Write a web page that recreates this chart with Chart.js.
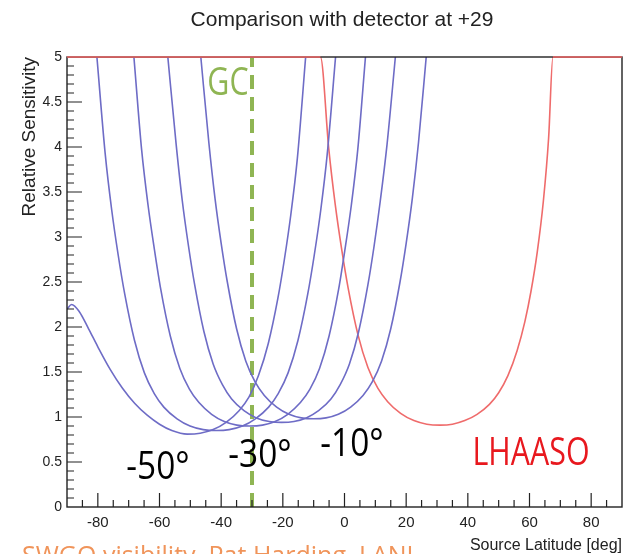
<!DOCTYPE html>
<html>
<head>
<meta charset="utf-8">
<script src="https://cdn.jsdelivr.net/npm/chart.js@4.4.1/dist/chart.umd.min.js"></script>
<style>
  html, body { margin: 0; padding: 0; background: #fff; }
  #chart { display: block; }
</style>
</head>
<body>
<canvas id="chart" width="637" height="554"></canvas>
<script>
// ---------- data ----------
const xTickLabels = [-80, -60, -40, -20, 0, 20, 40, 60, 80];
const yTickLabels = [0, 0.5, 1, 1.5, 2, 2.5, 3, 3.5, 4, 4.5, 5];

// sensitivity for detectors at -50, -40, -30, -20, -10 deg
const det50 = [[-90, 2.2], [-88.5, 2.25], [-86, 2.17], [-83, 1.98], [-80, 1.78], [-76, 1.53], [-72, 1.32], [-68, 1.15], [-64, 1.02], [-60, 0.92], [-56, 0.85], [-51, 0.81],
               [-46.8, 0.82], [-42.6, 0.86], [-38.4, 0.94], [-34.2, 1.07], [-31, 1.22], [-27.9, 1.46], [-24.7, 1.82], [-21.6, 2.32], [-19.5, 2.75], [-17.4, 3.25], [-15.3, 3.87], [-12.6, 5]];
const det40 = [[-80.3, 5], [-77.6, 3.92], [-75.5, 3.3], [-73.4, 2.8], [-71.3, 2.37], [-68.1, 1.85], [-64.9, 1.49], [-61.7, 1.26], [-58.6, 1.11], [-54.3, 0.98], [-50.1, 0.9], [-45.8, 0.86], [-41.6, 0.85],
               [-37.4, 0.86], [-33.1, 0.9], [-28.9, 0.98], [-24.6, 1.11], [-21.5, 1.26], [-18.3, 1.49], [-15.1, 1.85], [-11.9, 2.37], [-9.8, 2.8], [-7.7, 3.3], [-5.6, 3.92], [-2.9, 5]];
const det30 = [[-68.3, 5], [-65.8, 3.97], [-63.7, 3.35], [-61.6, 2.85], [-59.6, 2.42], [-56.5, 1.9], [-53.4, 1.54], [-50.3, 1.31], [-47.2, 1.16], [-43.1, 1.03], [-39, 0.95], [-34.9, 0.91], [-30.75, 0.9],
               [-26.6, 0.91], [-22.5, 0.95], [-18.4, 1.03], [-14.3, 1.16], [-11.2, 1.31], [-8.1, 1.54], [-5, 1.9], [-1.9, 2.42], [0.1, 2.85], [2.2, 3.35], [4.3, 3.97], [6.8, 5]];
const det20 = [[-57.3, 5], [-54.6, 4.03], [-52.6, 3.4], [-50.6, 2.9], [-48.6, 2.47], [-45.6, 1.95], [-42.6, 1.59], [-39.6, 1.36], [-36.6, 1.2], [-32.6, 1.07], [-28.6, 0.99], [-24.4, 0.95], [-20.4, 0.94],
               [-16.4, 0.95], [-12.4, 0.99], [-8.4, 1.07], [-4.4, 1.2], [-1.4, 1.36], [1.6, 1.59], [4.6, 1.95], [7.6, 2.47], [9.6, 2.9], [11.6, 3.4], [13.8, 4.03], [16.5, 5]];
const det10 = [[-46.6, 5], [-44, 4.05], [-42, 3.43], [-40, 2.93], [-38, 2.5], [-35, 1.98], [-32, 1.62], [-29, 1.39], [-26, 1.24], [-22, 1.11], [-18, 1.03], [-14, 0.99], [-10, 0.98],
               [-6, 0.99], [-2, 1.03], [2, 1.11], [6, 1.24], [9, 1.39], [12, 1.62], [15, 1.98], [18, 2.5], [20, 2.93], [22, 3.43], [24, 4.05], [26.5, 5]];

// LHAASO at +29
const lhaaso = [[-90, 5], [-7.8, 5], [-5.1, 3.98], [-3, 3.36], [-0.9, 2.86], [1.2, 2.43], [4.4, 1.91], [7.6, 1.55], [10.8, 1.32], [14, 1.17], [18.2, 1.04], [22.5, 0.96], [26.7, 0.92], [31, 0.91],
                [35, 0.92], [39, 0.96], [43, 1.03], [47, 1.14], [50, 1.27], [53, 1.46], [56, 1.74], [58.5, 2.06], [60.5, 2.4], [62.5, 2.83], [64.5, 3.4], [66.2, 4.1], [67.6, 5], [90, 5]];

// galactic centre line
const gcLine = [[-30, 0], [-30, 5]];

// ---------- styles ----------
const BLUE = "#6e6cc6";
const RED = "#ef6b6b";
const GREEN = "#8fb553";

const toPts = arr => arr.map(p => ({ x: p[0], y: p[1] }));

function curve(arr, color) {
    return {
        data: toPts(arr),
        borderColor: color,
        borderWidth: 1.6,
        pointRadius: 0,
        showLine: true,
        fill: false,
        cubicInterpolationMode: "monotone"
    };
}

// ---------- ticks, frame and annotations ----------
const rootStyle = {
    id: "rootStyle",
    afterDraw(chart) {
        const ctx = chart.ctx;
        const a = chart.chartArea;
        const xs = chart.scales.x;
        const ys = chart.scales.y;

        ctx.save();
        ctx.strokeStyle = "#222";
        ctx.lineWidth = 1.2;

        // inward ticks on x
        ctx.beginPath();
        for (let v = -85; v <= 85; v += 5) {
            const px = xs.getPixelForValue(v);
            const len = v % 20 === 0 ? 14 : 7;
            ctx.moveTo(px, a.bottom);
            ctx.lineTo(px, a.bottom - len);
        }
        // inward ticks on y
        for (let i = 1; i < 50; i++) {
            const py = ys.getPixelForValue(i / 10);
            const len = i % 5 === 0 ? 15 : 7;
            ctx.moveTo(a.left, py);
            ctx.lineTo(a.left + len, py);
        }
        ctx.stroke();

        // frame
        ctx.lineWidth = 1.4;
        ctx.strokeRect(a.left, a.top, a.right - a.left, a.bottom - a.top);

        // red plateau at top is drawn over the frame
        ctx.strokeStyle = RED;
        ctx.lineWidth = 1.6;
        ctx.beginPath();
        ctx.moveTo(xs.getPixelForValue(-90), a.top);
        ctx.lineTo(xs.getPixelForValue(-7.8), a.top);
        ctx.moveTo(xs.getPixelForValue(67.6), a.top);
        ctx.lineTo(xs.getPixelForValue(90), a.top);
        ctx.stroke();

        // title
        ctx.fillStyle = "#222";
        ctx.font = "21px 'Liberation Sans', Arial, sans-serif";
        ctx.textAlign = "center";
        ctx.textBaseline = "alphabetic";
        ctx.fillText("Comparison with detector at +29", 342, 26);

        // axis titles
        ctx.font = "16px 'Liberation Sans', Arial, sans-serif";
        ctx.textAlign = "right";
        ctx.fillText("Source Latitude [deg]", a.right, 550);

        ctx.save();
        ctx.translate(30, a.top);
        ctx.rotate(-Math.PI / 2);
        ctx.font = "19px 'Liberation Sans', Arial, sans-serif";
        ctx.textAlign = "right";
        ctx.textBaseline = "middle";
        ctx.fillText("Relative Sensitivity", 0, 0);
        ctx.restore();

        // big slide labels (narrow sans)
        const label = (txt, cx, base, color, sx) => {
            ctx.save();
            ctx.translate(cx, base);
            ctx.scale(sx, 1);
            ctx.font = "38px 'Open Sans', 'Noto Sans', sans-serif";
            ctx.fillStyle = color;
            ctx.textAlign = "center";
            ctx.textBaseline = "alphabetic";
            ctx.fillText(txt, 0, 0);
            ctx.restore();
        };
        label("GC", 228, 95, GREEN, 0.8);
        label("-50°", 158, 479, "#000", 0.88);
        label("-30°", 260, 467, "#000", 0.88);
        label("-10°", 352, 456, "#000", 0.88);
        label("LHAASO", 531, 465, "#e8181e", 0.8);

        // footer credit, cut by the page edge
        ctx.font = "25px 'Open Sans', 'Noto Sans', sans-serif";
        ctx.fillStyle = "#f0945a";
        ctx.textAlign = "left";
        ctx.fillText("SWGO visibility, Pat Harding, LANL", 22, 564);

        ctx.restore();
    }
};

new Chart(document.getElementById("chart"), {
    type: "scatter",
    data: {
        datasets: [
            curve(det50, BLUE),
            curve(det40, BLUE),
            curve(det30, BLUE),
            curve(det20, BLUE),
            curve(det10, BLUE),
            curve(lhaaso, RED),
            {
                data: toPts(gcLine),
                borderColor: GREEN,
                borderWidth: 4,
                borderDash: [14, 8],
                pointRadius: 0,
                showLine: true,
                fill: false
            }
        ]
    },
    options: {
        responsive: false,
        animation: false,
        devicePixelRatio: 1,
        layout: { padding: { top: 57, right: 15, left: 0, bottom: 0 } },
        plugins: {
            legend: { display: false },
            title: { display: false },
            tooltip: { enabled: false }
        },
        scales: {
            x: {
                type: "linear",
                min: -90,
                max: 90,
                grid: { display: false, drawTicks: false },
                border: { display: false },
                ticks: {
                    color: "#222",
                    font: { family: "'Liberation Sans', Arial, sans-serif", size: 15 },
                    padding: 7,
                    maxRotation: 0,
                    autoSkip: false
                },
                afterBuildTicks: s => { s.ticks = xTickLabels.map(v => ({ value: v })); },
                afterFit: s => { s.height = 47; }
            },
            y: {
                type: "linear",
                min: 0,
                max: 5,
                grid: { display: false, drawTicks: false },
                border: { display: false },
                ticks: {
                    color: "#222",
                    font: { family: "'Liberation Sans', Arial, sans-serif", size: 14 },
                    padding: 5,
                    callback: v => String(v)
                },
                afterBuildTicks: s => { s.ticks = yTickLabels.map(v => ({ value: v })); },
                afterFit: s => { s.width = 67; }
            }
        }
    },
    plugins: [rootStyle]
});
</script>
</body>
</html>
